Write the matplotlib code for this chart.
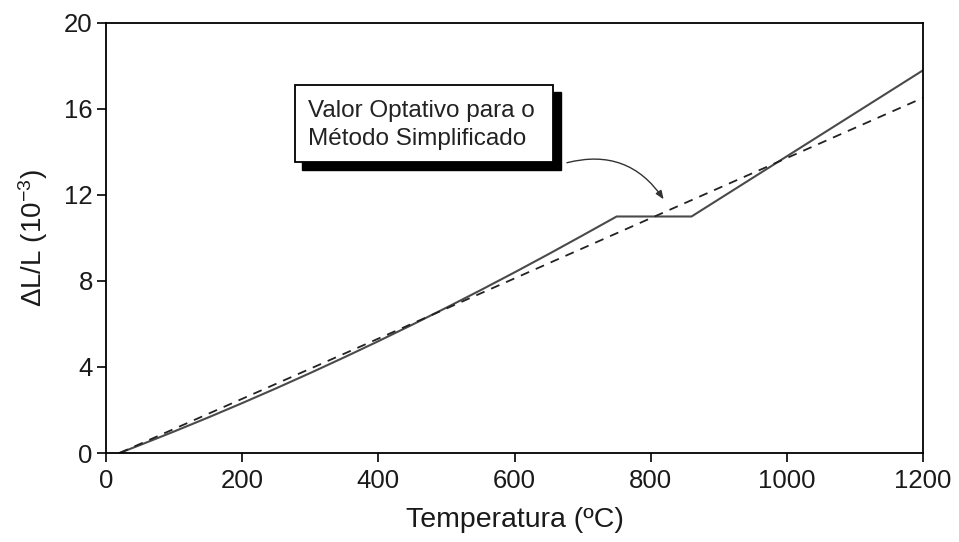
import matplotlib
matplotlib.use('Agg')
import matplotlib.pyplot as plt
from matplotlib.patches import Rectangle

plt.rcParams['font.family'] = ['Liberation Sans', 'DejaVu Sans']
plt.rcParams['mathtext.default'] = 'regular'

# Thermal elongation of steel (x 10^-3)
temp_solid = [20, 50, 100, 150, 200, 250, 300, 350, 400, 450, 500, 550,
              600, 650, 700, 750, 860, 1000, 1200]
elong_solid = [0.0, 0.37, 1.0, 1.65, 2.32, 3.01, 3.72, 4.45, 5.2, 5.97, 6.76,
               7.57, 8.4, 9.25, 10.12, 11.0, 11.0, 13.8, 17.8]

# Simplified (linear) value
temp_simple = [20, 1200]
elong_simple = [0.0, 16.52]

x_ticks = [0, 200, 400, 600, 800, 1000, 1200]
y_ticks = [0, 4, 8, 12, 16, 20]

fig = plt.figure(figsize=(9.59, 5.42), dpi=100)
ax = fig.add_axes([0.1105, 0.1642, 0.852, 0.7934])

ax.plot(temp_solid, elong_solid, color='#4a4a4a', lw=1.5)
ax.plot(temp_simple, elong_simple, color='#222222', lw=1.3,
        dashes=(5, 4))

ax.set_xlim(0, 1200)
ax.set_ylim(0, 20)
ax.set_xticks(x_ticks)
ax.set_yticks(y_ticks)
ax.tick_params(direction='out', length=6.5, width=1.2, labelsize=18.5,
               pad=3, top=False, right=False, labelcolor='#1a1a1a')
ax.tick_params(axis='x', pad=5)
for s in ax.spines.values():
    s.set_linewidth(1.3)

ax.set_xlabel('Temperatura (ºC)', fontsize=20.5, labelpad=10,
              color='#1a1a1a')
ax.set_ylabel('ΔL/L (10$^{-3}$)', fontsize=20, labelpad=10,
              color='#1a1a1a')

# Callout box with drop shadow
box_x, box_y, box_w, box_h = 277.6, 13.53, 379.0, 3.59
sh_dx, sh_dy = 11.0, -0.35
ax.add_patch(Rectangle((box_x + sh_dx, box_y + sh_dy), box_w, box_h,
                       facecolor='black', edgecolor='black', zorder=4))
ax.add_patch(Rectangle((box_x, box_y), box_w, box_h, facecolor='white',
                       edgecolor='black', lw=1.3, zorder=5))
ax.text(box_x + 19, box_y + box_h - 0.7,
        'Valor Optativo para o\nMétodo Simplificado',
        fontsize=17.5, color='#222222', va='top', ha='left',
        linespacing=1.35, zorder=6)

ax.annotate('', xy=(819, 11.8), xytext=(677, 13.5),
            arrowprops=dict(arrowstyle='-|>,head_length=0.5,head_width=0.2',
                            color='#333333', lw=1.0,
                            connectionstyle='arc3,rad=-0.35',
                            shrinkA=0, shrinkB=0),
            zorder=6)

fig.savefig('out.png', dpi=100)
